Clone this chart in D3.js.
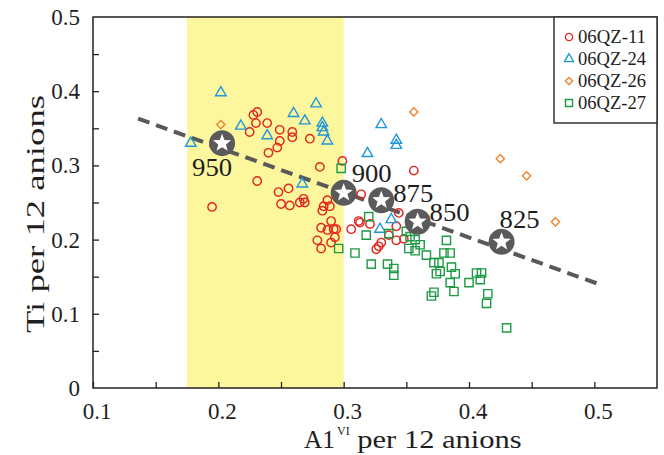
<!DOCTYPE html>
<html>
<head>
<meta charset="utf-8">
<script src="https://cdn.jsdelivr.net/npm/d3@7/dist/d3.min.js"></script>
<style>
  html, body { margin: 0; padding: 0; background: #fff; }
  svg { display: block; }
  text { font-family: "Liberation Serif", "Times New Roman", serif; fill: #1e1e1e; }
</style>
</head>
<body>
<svg id="chart" width="664" height="455"></svg>
<script>
// ---- data: Al(VI) vs Ti per 12 anions ----
const seriesNames = ["06QZ-11", "06QZ-24", "06QZ-26", "06QZ-27"];

const qz11X = [0.231,0.228,0.230,0.225,0.239,0.249,0.259,0.259,0.273,0.249,0.247,0.240,0.281,0.299,0.231,0.195,0.248,0.256,0.250,0.257,0.265,0.268,0.269,0.287,0.284,0.289,0.283,0.290,0.282,0.287,0.292,0.294,0.279,0.293,0.290,0.282,0.356,0.314,0.344,0.312,0.313,0.321,0.306,0.342,0.336,0.342,0.348,0.330,0.328,0.326];
const qz11Y = [0.372,0.368,0.357,0.345,0.357,0.348,0.345,0.338,0.336,0.333,0.324,0.317,0.298,0.306,0.279,0.244,0.264,0.269,0.248,0.246,0.250,0.255,0.250,0.253,0.245,0.245,0.239,0.225,0.216,0.213,0.214,0.214,0.199,0.203,0.196,0.188,0.293,0.261,0.236,0.225,0.223,0.221,0.214,0.218,0.206,0.199,0.201,0.196,0.191,0.187];

const qz24X = [0.202,0.218,0.178,0.239,0.278,0.260,0.269,0.283,0.283,0.284,0.287,0.267,0.330,0.342,0.342,0.319,0.338,0.329];
const qz24Y = [0.398,0.353,0.330,0.340,0.383,0.370,0.360,0.357,0.351,0.345,0.333,0.275,0.355,0.334,0.327,0.316,0.227,0.214];

const qz26X = [0.202,0.356,0.425,0.446,0.469];
const qz26Y = [0.355,0.372,0.309,0.286,0.224];

const qz27X = [0.298,0.296,0.309,0.318,0.320,0.322,0.335,0.340,0.340,0.336,0.350,0.353,0.357,0.352,0.357,0.361,0.366,0.382,0.380,0.385,0.372,0.376,0.386,0.374,0.377,0.389,0.385,0.400,0.406,0.410,0.409,0.388,0.372,0.370,0.415,0.414,0.430];
const qz27Y = [0.296,0.188,0.182,0.206,0.231,0.167,0.167,0.161,0.152,0.208,0.211,0.204,0.200,0.188,0.185,0.193,0.179,0.199,0.182,0.182,0.169,0.169,0.163,0.154,0.157,0.154,0.142,0.142,0.155,0.155,0.146,0.130,0.129,0.124,0.127,0.114,0.081];

// temperature points (°C) along the trend line
const tempLabels = ["950", "900", "875", "850", "825"];
const tempX = [0.203, 0.300, 0.330, 0.359, 0.426];
const tempY = [0.330, 0.263, 0.253, 0.224, 0.197];

// dashed trend line end points
const trendX = [0.136, 0.502];
const trendY = [0.363, 0.141];

// highlighted Al(VI) range
const bandX = [0.175, 0.300];

const xTicks = [0.1, 0.2, 0.3, 0.4, 0.5];
const yTicks = [0, 0.1, 0.2, 0.3, 0.4, 0.5];
const xMinor = [0.1,0.15,0.2,0.25,0.3,0.35,0.4,0.45,0.5];
const yMinor = [0.05,0.1,0.15,0.2,0.25,0.3,0.35,0.4,0.45];

// ---- layout ----
const svg = d3.select("#chart");
const L = 93, T = 17, R = 657, B = 388;

const x = d3.scaleLinear().domain([0.1, 0.55]).range([L, R]);
const y = d3.scaleLinear().domain([0, 0.5]).range([B, T]);

const colors = { "06QZ-11": "#e2271f", "06QZ-24": "#1f97dd", "06QZ-26": "#ec8630", "06QZ-27": "#1d9a44" };

// yellow band
svg.append("rect")
  .attr("x", x(bandX[0])).attr("y", T)
  .attr("width", x(bandX[1]) - x(bandX[0])).attr("height", B - T)
  .attr("fill", "#fcf69d");

// trend line
svg.append("line")
  .attr("x1", x(trendX[0])).attr("y1", y(trendY[0]))
  .attr("x2", x(trendX[1])).attr("y2", y(trendY[1]))
  .attr("stroke", "#595959").attr("stroke-width", 4)
  .attr("stroke-dasharray", "12,7");

// marker drawers
const shapes = {
  "06QZ-11": g => g.append("circle").attr("r", 4.2),
  "06QZ-24": g => g.append("path").attr("d", d3.symbol(d3.symbolTriangle, 48)()),
  "06QZ-26": g => g.append("path").attr("d", d3.symbol(d3.symbolSquare, 34)()).attr("transform", "rotate(45)"),
  "06QZ-27": g => g.append("path").attr("d", d3.symbol(d3.symbolSquare, 68)())
};

function drawSeries(name, xs, ys) {
  const pts = xs.map((v, i) => [v, ys[i]]);
  const g = svg.append("g");
  g.selectAll("g").data(pts).join("g")
    .attr("transform", d => `translate(${x(d[0])},${y(d[1])})`)
    .each(function () { shapes[name](d3.select(this)); })
    .selectAll("circle,path")
    .attr("fill", "none").attr("stroke", colors[name]).attr("stroke-width", 1.4);
}
drawSeries("06QZ-11", qz11X, qz11Y);
drawSeries("06QZ-24", qz24X, qz24Y);
drawSeries("06QZ-26", qz26X, qz26Y);
drawSeries("06QZ-27", qz27X, qz27Y);

// star markers with temperature labels
function starPath(ro, ri) {
  const p = [];
  for (let i = 0; i < 10; i++) {
    const r = i % 2 ? ri : ro;
    const a = -Math.PI / 2 + i * Math.PI / 5;
    p.push([r * Math.cos(a), r * Math.sin(a)]);
  }
  return "M" + p.map(q => q.join(",")).join("L") + "Z";
}
const labelOffset = [[-30, 33], [8, -11], [12, 2], [12, -1], [-2, -14]];
const stars = svg.append("g").selectAll("g").data(tempLabels).join("g")
  .attr("transform", (d, i) => `translate(${x(tempX[i])},${y(tempY[i])})`);
stars.append("circle").attr("r", 13).attr("fill", "#5a5a5a");
stars.append("path").attr("d", starPath(9.5, 4)).attr("fill", "#fff");
stars.append("text")
  .attr("x", (d, i) => labelOffset[i][0]).attr("y", (d, i) => labelOffset[i][1])
  .attr("font-size", 26).attr("textLength", 40).attr("lengthAdjust", "spacingAndGlyphs")
  .text(d => d);

// axes
const xAxis = d3.axisBottom(x).tickValues(xMinor).tickSize(-6).tickFormat("");
svg.append("g").attr("transform", `translate(0,${B})`).call(xAxis)
  .call(g => g.select(".domain").remove())
  .call(g => g.selectAll("line").attr("stroke", "#222").attr("stroke-width", 1.3));
const yAxis = d3.axisLeft(y).tickValues(yMinor).tickSize(-6).tickFormat("");
svg.append("g").attr("transform", `translate(${L},0)`).call(yAxis)
  .call(g => g.select(".domain").remove())
  .call(g => g.selectAll("line").attr("stroke", "#222").attr("stroke-width", 1.3));

svg.append("rect").attr("x", L).attr("y", T).attr("width", R - L).attr("height", B - T)
  .attr("fill", "none").attr("stroke", "#222").attr("stroke-width", 1.5);

svg.append("g").selectAll("text").data(xTicks).join("text")
  .attr("x", d => x(d) + 4).attr("y", B + 31)
  .attr("text-anchor", "middle").attr("font-size", 23)
  .text(d => d3.format(".1f")(d));
svg.append("g").selectAll("text").data(yTicks).join("text")
  .attr("x", L - 13).attr("y", d => y(d) + 8)
  .attr("text-anchor", "end").attr("font-size", 23)
  .text(d => d === 0 ? "0" : d3.format(".1f")(d));

// axis titles
const xt = svg.append("text").attr("x", 304).attr("y", 448).attr("font-size", 26);
xt.append("tspan").attr("textLength", 31).attr("lengthAdjust", "spacingAndGlyphs").text("A1");
xt.append("tspan").attr("font-size", 12).attr("dy", -13).attr("dx", 2).text("VI");
xt.append("tspan").attr("dy", 13).attr("textLength", 172).attr("lengthAdjust", "spacingAndGlyphs").text(" per 12 anions");

svg.append("text")
  .attr("transform", "translate(44,214) rotate(-90)")
  .attr("text-anchor", "middle").attr("font-size", 26)
  .attr("textLength", 238).attr("lengthAdjust", "spacingAndGlyphs")
  .text("Ti per 12 anions");

// legend
const lg = svg.append("g");
lg.append("rect").attr("x", 554).attr("y", T).attr("width", R - 554).attr("height", 106)
  .attr("fill", "#fff").attr("stroke", "#333").attr("stroke-width", 1.5);
const legendShapes = {
  "06QZ-11": g => g.append("circle").attr("r", 3.6),
  "06QZ-24": g => g.append("path").attr("d", d3.symbol(d3.symbolTriangle, 36)()),
  "06QZ-26": g => g.append("path").attr("d", d3.symbol(d3.symbolSquare, 26)()).attr("transform", "rotate(45)"),
  "06QZ-27": g => g.append("path").attr("d", d3.symbol(d3.symbolSquare, 50)())
};
const items = lg.selectAll("g.item").data(seriesNames).join("g").attr("class", "item")
  .attr("transform", (d, i) => `translate(569,${37 + i * 22})`);
items.each(function (d) {
  legendShapes[d](d3.select(this)).attr("fill", "none").attr("stroke", colors[d]).attr("stroke-width", 1.4);
});
items.append("text").attr("x", 9).attr("y", 6).attr("font-size", 18)
  .attr("textLength", 68).attr("lengthAdjust", "spacingAndGlyphs").text(d => d);
</script>
</body>
</html>
